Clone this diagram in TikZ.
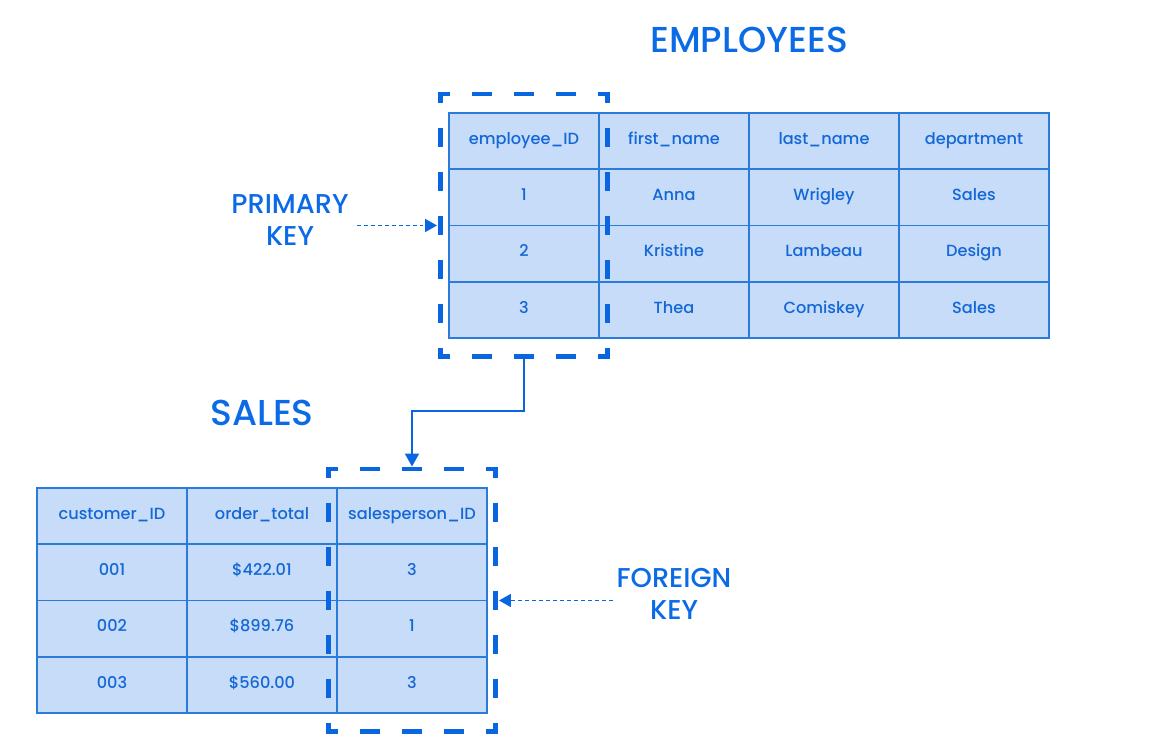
\documentclass[tikz,border=0pt]{standalone}
\usepackage{fontspec}
\setmainfont{Poppins Medium}
\usetikzlibrary{arrows.meta,fit,positioning}
\definecolor{headblue}{HTML}{0B6BE6}
\definecolor{keyblue}{HTML}{0A66E0}
\definecolor{cellline}{HTML}{2A7BDA}
\definecolor{cellfill}{HTML}{C6DCF8}
\definecolor{celltext}{HTML}{1467D6}
\tikzset{
  tabletitle/.style={font=\fontsize{20.5}{24}\selectfont, text=headblue},
  keylabel/.style={font=\fontsize{15.5}{18}\selectfont, text=headblue,
    align=center, inner sep=2pt},
  cell/.style={draw=cellline, fill=cellfill, line width=1.1pt,
    minimum width=3cm, minimum height=1.125cm, inner sep=0pt,
    text height=7pt, text depth=3.4pt,
    font=\fontsize{9.2}{12}\selectfont, text=celltext},
  keybox/.style={inner xsep=.15cm, inner ysep=.36cm, outer sep=0pt},
  keyh/.style={draw=keyblue, line width=2.8pt, line cap=rect,
    dash pattern=on .3cm off .54cm, dash phase=.16cm},
  keyv/.style={draw=keyblue, line width=2.8pt, line cap=rect,
    dash pattern=on .3cm off .58cm, dash phase=.16cm},
  keyarrow/.style={-{Triangle[length=2.4mm,width=2.6mm]}, draw=keyblue,
    line width=1pt, dash pattern=on .08cm off .06cm},
  linkarrow/.style={-{Triangle[length=2.6mm,width=2.8mm]}, draw=keyblue,
    line width=1.1pt}
}
\begin{document}
\begin{tikzpicture}[x=.02cm,y=-.02cm]
  \useasboundingbox (0,0) rectangle (1154,750);
  % employees table
  \foreach \row [count=\r from 0] in {{employee\_ID,first\_name,last\_name,department},
      {1,Anna,Wrigley,Sales},{2,Kristine,Lambeau,Design},{3,Thea,Comiskey,Sales}} {
    \foreach \cell [count=\c from 0] in \row {
      \node[cell] (emp-\r-\c) at (524+150*\c,141.1+56.25*\r) {\cell};
    }
  }
  % sales table
  \foreach \row [count=\r from 0] in {{customer\_ID,order\_total,salesperson\_ID},
      {001,\$422.01,3},{002,\$899.76,1},{003,\$560.00,3}} {
    \foreach \cell [count=\c from 0] in \row {
      \node[cell] (sal-\r-\c) at (112+150*\c,516.1+56.25*\r) {\cell};
    }
  }
  \node[tabletitle] (emptitle) at (749,40) {EMPLOYEES};
  \node[tabletitle] (saltitle) at (262,413) {SALES};

  % dashed frames round the key columns
  \node[keybox, fit=(emp-0-0)(emp-3-0)] (pkbox) {};
  \node[keybox, fit=(sal-0-2)(sal-3-2)] (fkbox) {};
  \foreach \b in {pkbox,fkbox} {
    \draw[keyh] (\b.north west) -- (\b.north east);
    \draw[keyh] (\b.south west) -- (\b.south east);
    \draw[keyv] (\b.north west) -- (\b.south west);
    \draw[keyv] (\b.north east) -- (\b.south east);
  }

  \node[keylabel] (pklabel) at (290,220) {PRIMARY\\KEY};
  \node[keylabel] (fklabel) at (674,594) {FOREIGN\\KEY};
  \draw[keyarrow] (pklabel.east |- pkbox.west) ++(4,0) -- ([xshift=-2pt]pkbox.west);
  \draw[keyarrow] (fklabel.west |- fkbox.east) -- ([xshift=2pt]fkbox.east);
  \draw[linkarrow] ([yshift=-1.4pt]pkbox.south) -- ++(0,52) -| ([yshift=1.4pt]fkbox.north);
\end{tikzpicture}
\end{document}
